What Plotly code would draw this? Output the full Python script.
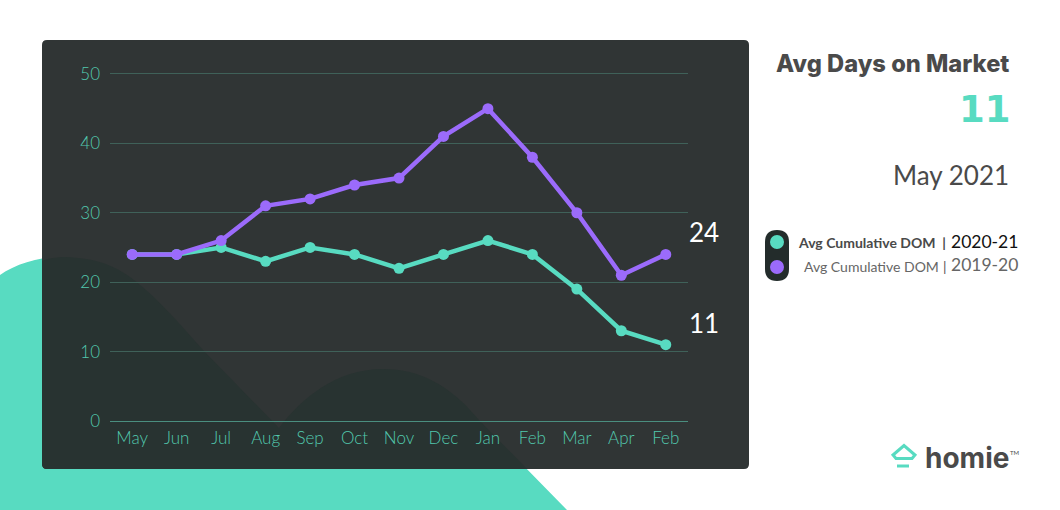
import plotly.graph_objects as go

months = ["May", "Jun", "Jul", "Aug", "Sep", "Oct", "Nov", "Dec", "Jan", "Feb", "Mar", "Apr", "Feb"]
dom_2020_21 = [24, 24, 25, 23, 25, 24, 22, 24, 26, 24, 19, 13, 11]
dom_2019_20 = [24, 24, 26, 31, 32, 34, 35, 41, 45, 38, 30, 21, 24]
positions = list(range(len(months)))

W, H = 1060, 510
L, R, T, B = 110, 688, 67.06, 421
TEAL = "#58dbc1"
PURPLE = "#9b6bfb"
PANEL = "#303535"
PANEL_DARK = "#283331"
TEXT = "#4a4a4a"
FONT = "Lato"


def fx(x):
    return (x - L) / (R - L)


def fy(y):
    return (B - y) / (B - T)


def path(cmds):
    out = []
    for c in cmds:
        out.append(c[0] + " ".join(f"{fx(c[i])},{fy(c[i + 1])}" for i in range(1, len(c), 2)))
    return " ".join(out) + " Z"


def rrect(x0, y0, x1, y1, r):
    return path([
        ("M", x0 + r, y0), ("L", x1 - r, y0), ("Q", x1, y0, x1, y0 + r),
        ("L", x1, y1 - r), ("Q", x1, y1, x1 - r, y1), ("L", x0 + r, y1),
        ("Q", x0, y1, x0, y1 - r), ("L", x0, y0 + r), ("Q", x0, y0, x0 + r, y0),
    ])


def shp(d, color, layer="below"):
    return dict(type="path", xref="paper", yref="paper", path=d, fillcolor=color,
                line=dict(width=0), layer=layer)


def circle(cx, cy, r, color, layer="above"):
    return dict(type="circle", xref="paper", yref="paper", x0=fx(cx - r), x1=fx(cx + r),
                y0=fy(cy + r), y1=fy(cy - r), fillcolor=color, line=dict(width=0), layer=layer)


def note(text, x, y, size, color, anchor="right", family=FONT, weight=None):
    return dict(text=text, x=fx(x), y=fy(y), xref="paper", yref="paper", showarrow=False,
                xanchor=anchor, yanchor="middle", borderpad=0, borderwidth=0,
                font=dict(size=size, color=color, family=family, weight=weight))


blob = path([
    ("M", 0, 510), ("L", 0, 275), ("C", 15, 264, 40, 256, 65, 257), ("C", 95, 258, 115, 265, 134, 280),
    ("C", 160, 300, 185, 330, 203, 350), ("L", 279, 428), ("C", 300, 400, 335, 369, 383, 369),
    ("C", 420, 369, 450, 385, 479, 420), ("L", 567, 510),
])
blob_inner = path([
    ("M", 47, 469), ("Q", 42, 469, 42, 464), ("L", 42, 261), ("C", 49, 258, 57, 257, 65, 257),
    ("C", 95, 258, 115, 265, 134, 280), ("C", 160, 300, 185, 330, 203, 350), ("L", 279, 428),
    ("C", 300, 400, 335, 369, 383, 369), ("C", 420, 369, 450, 385, 479, 420), ("L", 527, 469),
])
logo_roof = path([
    ("M", 893, 455), ("L", 904, 445.5), ("L", 915, 455), ("L", 912, 458.5), ("L", 896, 458.5),
])

shapes = [
    shp(blob, TEAL),
    shp(rrect(42, 40, 749, 469, 5), PANEL),
    shp(blob_inner, PANEL_DARK),
    shp(rrect(765, 230, 789, 281, 12), "#232c2b", "above"),
    circle(777, 242, 7, TEAL),
    circle(777, 267, 7, PURPLE),
    dict(type="path", xref="paper", yref="paper", path=logo_roof, fillcolor="rgba(0,0,0,0)",
         line=dict(width=3, color=TEAL), layer="above"),
    dict(type="line", xref="paper", yref="paper", x0=fx(897), x1=fx(909), y0=fy(466), y1=fy(466),
         line=dict(width=3, color=TEAL), layer="above"),
]

annotations = [
    note("Avg Days on Market", 1009, 64, 23.7, TEXT, family="Inter", weight=800),
    note("<b>11</b>", 1011, 110, 37, TEAL, family="DejaVu Sans"),
    note("May 2021", 1009, 175, 26, TEXT),
    note("<b>Avg Cumulative DOM  |</b>", 946, 243, 14, TEXT),
    note("2020-21", 1018, 242, 17.5, "#111111"),
    note("Avg Cumulative DOM", 939, 267, 14, "#666666"),
    note("|", 947, 267, 14, "#555555"),
    note("2019-20", 1018, 265, 17.5, "#666666"),
    note("24", 689, 232, 26, "#ffffff", "left"),
    note("11", 689, 323, 26, "#ffffff", "left"),
    note("<b>homie</b>", 925, 458, 28, TEXT, "left", family="Inter"),
    note("TM", 1010, 452, 6, TEXT, "left"),
]

tick_font = dict(size=17, color="#52c9ae", family=FONT, weight=300)

fig = go.Figure()
fig.add_trace(go.Scatter(x=positions, y=dom_2020_21, mode="lines+markers", name="2020-21",
                         line=dict(color=TEAL, width=4.5), marker=dict(color=TEAL, size=11)))
fig.add_trace(go.Scatter(x=positions, y=dom_2019_20, mode="lines+markers", name="2019-20",
                         line=dict(color=PURPLE, width=4.5), marker=dict(color=PURPLE, size=11)))
fig.update_layout(
    width=W, height=H, margin=dict(l=L, r=W - R, t=T, b=H - B, pad=0),
    paper_bgcolor="#ffffff", plot_bgcolor="rgba(0,0,0,0)", showlegend=False,
    shapes=shapes, annotations=annotations,
    font=dict(family=FONT, color="#48b39b", size=16),
    xaxis=dict(tickmode="array", tickvals=positions, ticktext=months, range=[-0.5, 12.5],
               showgrid=False, zeroline=False, ticks="", showline=False,
               tickfont=tick_font, ticklabelstandoff=5),
    yaxis=dict(range=[0, 51], tickvals=[0, 10, 20, 30, 40, 50], gridcolor="#3f6159", gridwidth=1,
               zeroline=True, zerolinecolor="#4a8e7f", zerolinewidth=1, ticks="", showline=False,
               tickfont=tick_font, ticklabelstandoff=9),
)
fig.write_html("out.html", config={"displayModeBar": False},
               post_script="document.body.style.margin='0';document.documentElement.style.overflow='hidden';")
